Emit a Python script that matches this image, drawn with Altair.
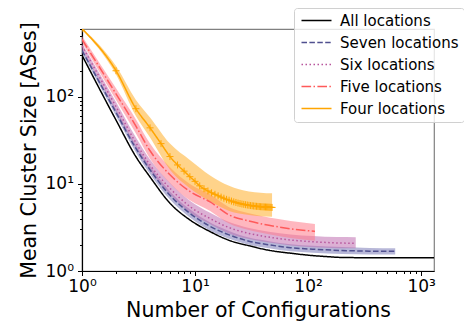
import altair as alt
import pandas as pd

series_names = ["All locations", "Seven locations", "Six locations", "Five locations", "Four locations"]
line_colors = ["#000000", "#50508f", "#b8559c", "#ff5a5a", "#ffa500"]
band_names = ["Seven", "Six", "Five", "Four"]
band_colors = ["#7c7cb8", "#c070b0", "#ff7b8a", "#ffae2a"]
dash_styles = [[1, 0], [5.5, 2.4], [1.5, 2.5], [9.6, 2.4, 1.5, 2.4], [1, 0]]

# All locations
x_all = [1, 2, 3, 4, 6, 9, 13.6, 20, 30, 45, 70, 100, 150, 200, 400, 800, 1300]
y_all = [300, 54, 20.5, 12, 6.0, 3.86, 2.83, 2.25, 1.95, 1.73, 1.6, 1.52, 1.46, 1.43, 1.42, 1.42, 1.42]

# Seven locations
x_seven = [1, 2, 3, 4, 6, 9, 13.6, 20, 30, 45, 70, 110, 200, 350, 590]
y_seven = [340, 66, 25.5, 14.5, 7.4, 4.6, 3.25, 2.6, 2.2, 2.0, 1.85, 1.78, 1.72, 1.69, 1.68]
lo_seven = [320, 60, 23, 13, 6.6, 4.1, 2.9, 2.35, 2.0, 1.82, 1.68, 1.62, 1.57, 1.55, 1.55]
hi_seven = [360, 72, 28, 16, 8.2, 5.1, 3.6, 2.88, 2.42, 2.2, 2.03, 1.95, 1.88, 1.84, 1.82]

# Six locations
x_six = [1, 2, 3, 4, 6, 9, 13.6, 20, 30, 45, 70, 110, 180, 264]
y_six = [383, 77, 29.6, 16.5, 8.9, 5.5, 4.0, 3.15, 2.7, 2.45, 2.27, 2.17, 2.1, 2.08]
lo_six = [355, 68, 26, 14.3, 7.6, 4.7, 3.45, 2.7, 2.33, 2.12, 1.96, 1.87, 1.83, 1.82]
hi_six = [410, 87, 34, 19, 10.3, 6.4, 4.65, 3.65, 3.12, 2.83, 2.63, 2.52, 2.45, 2.44]

# Five locations
x_five = [1, 2, 3, 4, 6, 9, 13.6, 20, 30, 45, 70, 115]
y_five = [456, 108, 46, 24, 12.7, 8.2, 6.2, 4.4, 3.75, 3.35, 3.05, 2.85]
lo_five = [420, 92, 38, 19.5, 10.2, 6.5, 4.9, 3.5, 2.95, 2.65, 2.4, 2.23]
hi_five = [500, 125, 55, 29, 15.5, 10, 7.6, 5.4, 4.6, 4.1, 3.75, 3.47]

# Four locations (markers at every configuration count)
x_four = list(range(1, 49))
y_four = [604, 199, 73, 44, 29, 20.6, 16.5, 14.0, 12.1, 10.7,
          9.5, 8.8, 8.3, 7.9, 7.6, 7.3, 7.05, 6.85, 6.65, 6.5,
          6.35, 6.22, 6.12, 6.02, 5.95, 5.88, 5.82, 5.77, 5.72, 5.68,
          5.64, 5.61, 5.58, 5.55, 5.53, 5.51, 5.49, 5.47, 5.46, 5.45,
          5.44, 5.43, 5.42, 5.41, 5.40, 5.39, 5.38, 5.37]
x_four_band = [1, 2, 3, 4, 6, 9, 13.6, 20, 30, 48]
lo_four = [590, 180, 60, 34, 14.5, 8.9, 6.3, 4.9, 4.4, 4.2]
hi_four = [620, 225, 92, 58, 29, 18.8, 12.5, 9.5, 8.2, 7.8]

x_ticks = [1, 2, 3, 4, 5, 6, 7, 8, 9, 10, 20, 30, 40, 50, 60, 70, 80, 90,
           100, 200, 300, 400, 500, 600, 700, 800, 900, 1000]
y_ticks = [1, 2, 3, 4, 5, 6, 7, 8, 9, 10, 20, 30, 40, 50, 60, 70, 80, 90,
           100, 200, 300, 400, 500, 600]

rows = []
for name, xs, ys in [(series_names[0], x_all, y_all), (series_names[1], x_seven, y_seven),
                     (series_names[2], x_six, y_six), (series_names[3], x_five, y_five),
                     (series_names[4], x_four, y_four)]:
    for a, b in zip(xs, ys):
        rows.append({"series": name, "x": a, "y": b})
lines_df = pd.DataFrame(rows)

brows = []
for name, xs, lo, hi in [(band_names[0], x_seven, lo_seven, hi_seven),
                         (band_names[1], x_six, lo_six, hi_six),
                         (band_names[2], x_five, lo_five, hi_five),
                         (band_names[3], x_four_band, lo_four, hi_four)]:
    for a, l, h in zip(xs, lo, hi):
        brows.append({"band": name, "x": a, "lo": l, "hi": h})
bands_df = pd.DataFrame(brows)

four_df = pd.DataFrame({"x": x_four, "y": y_four})

FONT = "DejaVu Sans"
pow_test = "abs(log(datum.value)/LN10 - round(log(datum.value)/LN10)) < 0.000001"
label_expr = ("datum.value == 1 ? '10⁰' : datum.value == 10 ? '10¹' : "
              "datum.value == 100 ? '10²' : datum.value == 1000 ? '10³' : ''")

xscale = alt.Scale(type="log", domain=[1, 1300], nice=False)
yscale = alt.Scale(type="log", domain=[1, 600], nice=False)

xaxis = alt.Axis(values=x_ticks, labelExpr=label_expr, title="Number of Configurations",
                 tickSize={"condition": {"test": pow_test, "value": 4.5}, "value": 2.5},
                 labelOverlap=False, labelBound=False, labelFlush=False, grid=False,
                 domainColor="#000000", tickColor="#000000", domainWidth=1.2, tickWidth=1,
                 labelFont=FONT, labelFontSize=17, labelColor="#000000", labelPadding=3,
                 titleFont=FONT, titleFontSize=20.5, titleFontWeight="normal",
                 titleColor="#000000", titlePadding=6)
yaxis = alt.Axis(values=y_ticks, labelExpr=label_expr, title="Mean Cluster Size [ASes]",
                 tickSize={"condition": {"test": pow_test, "value": 4.5}, "value": 2.5},
                 labelOverlap=False, labelBound=False, labelFlush=False, grid=False,
                 domainColor="#000000", tickColor="#000000", domainWidth=1.2, tickWidth=1,
                 labelFont=FONT, labelFontSize=17, labelColor="#000000", labelPadding=4,
                 titleFont=FONT, titleFontSize=20.5, titleFontWeight="normal",
                 titleColor="#000000", titlePadding=6)

legend = alt.Legend(orient="none", legendX=212, legendY=-21, symbolType="M-1,0L5,0")

bands = alt.Chart(bands_df).mark_area(opacity=0.55, clip=True, interpolate="monotone").encode(
    x=alt.X("x:Q", scale=xscale, axis=xaxis),
    y=alt.Y("lo:Q", scale=yscale, axis=yaxis),
    y2="hi:Q",
    fill=alt.Fill("band:N", scale=alt.Scale(domain=band_names, range=band_colors), legend=None),
)

lines = alt.Chart(lines_df).mark_line(clip=True, strokeWidth=1.5, interpolate="monotone").encode(
    x=alt.X("x:Q", scale=xscale, axis=xaxis),
    y=alt.Y("y:Q", scale=yscale, axis=yaxis),
    color=alt.Color("series:N", scale=alt.Scale(domain=series_names, range=line_colors),
                    legend=legend, title=None),
    strokeDash=alt.StrokeDash("series:N", scale=alt.Scale(domain=series_names, range=dash_styles),
                              legend=legend, title=None),
)

markers = alt.Chart(four_df).mark_point(shape="M0,-1L0,1M-1,0L1,0", filled=False, size=49,
                                        strokeWidth=1, color="#ffa500", opacity=1, clip=True).encode(
    x=alt.X("x:Q", scale=xscale, axis=xaxis),
    y=alt.Y("y:Q", scale=yscale, axis=yaxis),
)

chart = alt.layer(bands, lines, markers).properties(
    width=352, height=242,
    autosize=alt.AutoSizeParams(type="none"),
    padding={"left": 74, "top": 21, "right": 30, "bottom": 51},
).configure_view(stroke="#808080", strokeWidth=1.2).configure_legend(
    fillColor="rgba(255,255,255,0.8)", strokeColor="#d0d0d0", cornerRadius=3, padding=5,
    labelFont=FONT, labelFontSize=15, labelColor="#000000",
    symbolSize=100, symbolStrokeWidth=1.5, rowPadding=6, labelOffset=26,
)

chart.save("out.html", embed_options={"renderer": "svg", "actions": False})
